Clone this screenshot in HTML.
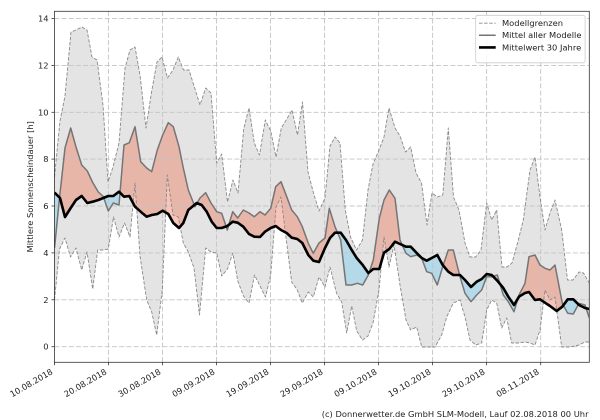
<!DOCTYPE html>
<html><head><meta charset="utf-8"><style>
html,body{margin:0;padding:0;background:#fff;}
svg{display:block;}
text{font-family:"DejaVu Sans","Liberation Sans",sans-serif;font-size:8.33px;fill:#222;}
</style></head><body>
<svg width="600" height="420" viewBox="0 0 600 420" xmlns="http://www.w3.org/2000/svg">
<defs>
<clipPath id="plot"><rect x="54.4" y="11.3" width="534.9" height="351"/></clipPath>
<clipPath id="above"><polygon points="54.4,0 54.5,192.5 60,198 65,217 70.7,208 76,200 81.7,196 87.3,203 92.7,201.7 98.3,200 103.3,198 108.3,196 113.3,196 119,191.7 124,196.7 129.3,196 135,206.7 140.7,211.7 146.7,216.7 151.7,215 157.3,214 162.7,210.7 168.3,214 173.3,223 179,228 183.3,223 188.3,210 196.7,203 201.7,205 206.7,211.7 211.7,221.7 216.7,228 221.7,228 227.3,226 232.7,221.7 237.7,222.7 243.3,226.7 249,234 254.3,236.7 260,237 265,231.7 270.7,228 275.7,226 281,230 286.7,233 291.7,237.7 297.3,239 302.3,243 308.3,255 313.3,260.7 319,262 325,248 330,238 335,232.7 340.7,232.7 346,240 351.7,250 356.7,258 362.7,265 368.3,273 373.3,269 379.3,269 384,252.7 389.3,249 395,241.7 400,244 406,246.7 410.7,246.7 416.7,253 421.7,258 426.7,260.7 431.7,258 437.3,255 442.7,265 448.3,271.7 453.3,275 460,275 465,280 471,287 476.7,281.7 481.7,279 486.7,274 491.7,275 497.3,280.7 503.3,288 508.3,296.7 514,305 519,296.7 525,293 529,292 535,300 540,299.3 545,302.7 550,306 556.7,311 562.3,306.7 567.7,299.3 573.3,299.3 579,305 585,308 589.3,309 589.3,0"/></clipPath>
<clipPath id="below"><polygon points="54.4,420 54.5,192.5 60,198 65,217 70.7,208 76,200 81.7,196 87.3,203 92.7,201.7 98.3,200 103.3,198 108.3,196 113.3,196 119,191.7 124,196.7 129.3,196 135,206.7 140.7,211.7 146.7,216.7 151.7,215 157.3,214 162.7,210.7 168.3,214 173.3,223 179,228 183.3,223 188.3,210 196.7,203 201.7,205 206.7,211.7 211.7,221.7 216.7,228 221.7,228 227.3,226 232.7,221.7 237.7,222.7 243.3,226.7 249,234 254.3,236.7 260,237 265,231.7 270.7,228 275.7,226 281,230 286.7,233 291.7,237.7 297.3,239 302.3,243 308.3,255 313.3,260.7 319,262 325,248 330,238 335,232.7 340.7,232.7 346,240 351.7,250 356.7,258 362.7,265 368.3,273 373.3,269 379.3,269 384,252.7 389.3,249 395,241.7 400,244 406,246.7 410.7,246.7 416.7,253 421.7,258 426.7,260.7 431.7,258 437.3,255 442.7,265 448.3,271.7 453.3,275 460,275 465,280 471,287 476.7,281.7 481.7,279 486.7,274 491.7,275 497.3,280.7 503.3,288 508.3,296.7 514,305 519,296.7 525,293 529,292 535,300 540,299.3 545,302.7 550,306 556.7,311 562.3,306.7 567.7,299.3 573.3,299.3 579,305 585,308 589.3,309 589.3,420"/></clipPath>
</defs>

<g clip-path="url(#plot)">
<!-- gray band -->
<polygon fill="#e4e4e4" points="54.5,177 60,121 65,96 71,32 76,30 82,27 87,30 92,57 97,60 103,105 108,182 113,167 119,143 125,68 130,50 135,47 140,75 146,128 151.7,91 157,62 162,57 167.5,78 173,70 178.3,57 183.5,70 189,70 195,89 200,105 205.7,88 211,93 216.7,163 221.7,154 227.5,202 233,180 238,193 243.7,129 249,108 254.3,143 259.5,155 265.3,120 270.7,131 276,157 281.3,128 286.8,119 292,110 297.5,135 302.5,102 308,172 313.5,193 319,211 325,198 330,146 335,137 340,143 345.3,210 350.5,237 356.5,250 362.5,240 368,190 373,164 379,150 384,137 389,108 395,128 400,136 405.5,152 410.7,147 416,173 421.5,183 427,225 432,193 437.3,197 442.8,195 448.3,128 453.5,197 459,210 465,243 470,257 475.7,257 481,250 486.7,203 491.7,220 496.7,210 502,267 507,267 512,263 518.3,240 523.3,220 530,170 535,157 540,197 545,230 550,213 555,200 561.7,230 567.5,280 573,280 579,272 583.5,273 589.3,283 589.3,342 585,342 579,345 570,347 561.7,347 555,297 550,300 545,290 540,330 535,345 530,343 525,342 518,343 511.7,343 506.7,318 501.7,328 496.7,303 491.7,300 486.7,310 481.7,343 475.7,345 470,340 465,317 460,300 453.3,303 446.7,317 441.7,335 435,347 428,347 421.7,347 416.7,327 410.7,330 406,320 400,285 394,245 389,267 384,237 379,290 373,323 368,336 362.5,340 356.7,331 351.7,306 346.7,333 341.7,302 336.5,293 330,267 325,287 319,277 313.3,297 308.3,292 302.3,303 297.3,290 291.7,282 286.7,243 281,197 276,207 270.7,275 265.5,297 260.5,287 254.5,275 249,303 243.5,296 237.8,281 232.8,253 227.5,269 221.7,276 216.7,253 211,252 205.7,248 199.5,315 194,268 188.3,252 183.3,243 178.3,217 173,215 167.3,175 162.3,290 156.7,335 151.7,312 146.7,300 140,256 135,183 130,237 124.5,223 119,237 113.5,217 108.3,249 103,250 97.7,250 92.7,289 87,252 81.7,270 76,248 70.5,257 65,238 59.5,249 54.5,300"/>

<!-- red fill -->
<polygon fill="rgba(238,124,98,0.45)" clip-path="url(#above)" points="54.5,248 59.5,198 65,148 70.7,128 76,147 81.7,165 87.3,171 92.7,182.5 98.3,192 103.3,196.5 108.3,211 113.3,203 119,205 124,145 129.3,142.7 135,126.7 140.7,161.7 146.7,168 151.7,171.7 157.3,150 162.7,135 168.3,122.7 173.3,126.7 179,146.7 183.3,168 188.3,190 195,206.7 200,198 205.7,192.7 211,203 216.7,211.7 221.7,213.3 227.3,230 232.7,211.7 237.7,218 243.3,210 249,213 254.3,216.7 260,211.7 265,215 270.7,208.3 275.7,186.7 281,181.7 286.7,196.7 291.7,210 297.3,216.7 302.3,226.7 308.3,243.3 313.3,253.3 319,243 325,238 329.3,208.3 335,226.7 340.7,240 346,285 351.7,285 357.3,283.3 362.7,285 368.3,275 373.3,260 379.3,218.3 384,200 389.3,190 395,198.3 400,240 406,253.3 410.7,256.7 416.7,255 421.7,258.3 426.7,271.7 431.7,273.3 437.3,285 442.7,266.7 448.3,250 453.3,250 460,276.7 465,293.3 471,301.7 476.7,295 481.7,290 486.7,276.7 491.7,276.7 497.3,275 503.3,295 508.3,301.7 514,311.7 519,295 525,283.3 529,256.7 535,255 540,265 545,268.3 550,270 555,265 562.3,303.3 567.7,313.3 573.3,314 579,303.3 585,305 589.3,318 589.3,309 585,308 579,305 573.3,299.3 567.7,299.3 562.3,306.7 556.7,311 550,306 545,302.7 540,299.3 535,300 529,292 525,293 519,296.7 514,305 508.3,296.7 503.3,288 497.3,280.7 491.7,275 486.7,274 481.7,279 476.7,281.7 471,287 465,280 460,275 453.3,275 448.3,271.7 442.7,265 437.3,255 431.7,258 426.7,260.7 421.7,258 416.7,253 410.7,246.7 406,246.7 400,244 395,241.7 389.3,249 384,252.7 379.3,269 373.3,269 368.3,273 362.7,265 356.7,258 351.7,250 346,240 340.7,232.7 335,232.7 330,238 325,248 319,262 313.3,260.7 308.3,255 302.3,243 297.3,239 291.7,237.7 286.7,233 281,230 275.7,226 270.7,228 265,231.7 260,237 254.3,236.7 249,234 243.3,226.7 237.7,222.7 232.7,221.7 227.3,226 221.7,228 216.7,228 211.7,221.7 206.7,211.7 201.7,205 196.7,203 188.3,210 183.3,223 179,228 173.3,223 168.3,214 162.7,210.7 157.3,214 151.7,215 146.7,216.7 140.7,211.7 135,206.7 129.3,196 124,196.7 119,191.7 113.3,196 108.3,196 103.3,198 98.3,200 92.7,201.7 87.3,203 81.7,196 76,200 70.7,208 65,217 60,198 54.5,192.5"/>
<!-- blue fill -->
<polygon fill="rgba(148,210,236,0.6)" clip-path="url(#below)" points="54.5,248 59.5,198 65,148 70.7,128 76,147 81.7,165 87.3,171 92.7,182.5 98.3,192 103.3,196.5 108.3,211 113.3,203 119,205 124,145 129.3,142.7 135,126.7 140.7,161.7 146.7,168 151.7,171.7 157.3,150 162.7,135 168.3,122.7 173.3,126.7 179,146.7 183.3,168 188.3,190 195,206.7 200,198 205.7,192.7 211,203 216.7,211.7 221.7,213.3 227.3,230 232.7,211.7 237.7,218 243.3,210 249,213 254.3,216.7 260,211.7 265,215 270.7,208.3 275.7,186.7 281,181.7 286.7,196.7 291.7,210 297.3,216.7 302.3,226.7 308.3,243.3 313.3,253.3 319,243 325,238 329.3,208.3 335,226.7 340.7,240 346,285 351.7,285 357.3,283.3 362.7,285 368.3,275 373.3,260 379.3,218.3 384,200 389.3,190 395,198.3 400,240 406,253.3 410.7,256.7 416.7,255 421.7,258.3 426.7,271.7 431.7,273.3 437.3,285 442.7,266.7 448.3,250 453.3,250 460,276.7 465,293.3 471,301.7 476.7,295 481.7,290 486.7,276.7 491.7,276.7 497.3,275 503.3,295 508.3,301.7 514,311.7 519,295 525,283.3 529,256.7 535,255 540,265 545,268.3 550,270 555,265 562.3,303.3 567.7,313.3 573.3,314 579,303.3 585,305 589.3,318 589.3,309 585,308 579,305 573.3,299.3 567.7,299.3 562.3,306.7 556.7,311 550,306 545,302.7 540,299.3 535,300 529,292 525,293 519,296.7 514,305 508.3,296.7 503.3,288 497.3,280.7 491.7,275 486.7,274 481.7,279 476.7,281.7 471,287 465,280 460,275 453.3,275 448.3,271.7 442.7,265 437.3,255 431.7,258 426.7,260.7 421.7,258 416.7,253 410.7,246.7 406,246.7 400,244 395,241.7 389.3,249 384,252.7 379.3,269 373.3,269 368.3,273 362.7,265 356.7,258 351.7,250 346,240 340.7,232.7 335,232.7 330,238 325,248 319,262 313.3,260.7 308.3,255 302.3,243 297.3,239 291.7,237.7 286.7,233 281,230 275.7,226 270.7,228 265,231.7 260,237 254.3,236.7 249,234 243.3,226.7 237.7,222.7 232.7,221.7 227.3,226 221.7,228 216.7,228 211.7,221.7 206.7,211.7 201.7,205 196.7,203 188.3,210 183.3,223 179,228 173.3,223 168.3,214 162.7,210.7 157.3,214 151.7,215 146.7,216.7 140.7,211.7 135,206.7 129.3,196 124,196.7 119,191.7 113.3,196 108.3,196 103.3,198 98.3,200 92.7,201.7 87.3,203 81.7,196 76,200 70.7,208 65,217 60,198 54.5,192.5"/>
</g>

<!-- grid -->
<g stroke="#c4c4c4" stroke-width="0.9" stroke-dasharray="5,2.2" fill="none">
<line x1="54.4" y1="346.7" x2="589.3" y2="346.7"/>
<line x1="54.4" y1="299.8" x2="589.3" y2="299.8"/>
<line x1="54.4" y1="252.9" x2="589.3" y2="252.9"/>
<line x1="54.4" y1="206" x2="589.3" y2="206"/>
<line x1="54.4" y1="159.1" x2="589.3" y2="159.1"/>
<line x1="54.4" y1="112.3" x2="589.3" y2="112.3"/>
<line x1="54.4" y1="65.4" x2="589.3" y2="65.4"/>
<line x1="54.4" y1="18.6" x2="589.3" y2="18.6"/>
<line x1="108.4" y1="11.3" x2="108.4" y2="362.3"/>
<line x1="162.5" y1="11.3" x2="162.5" y2="362.3"/>
<line x1="216.5" y1="11.3" x2="216.5" y2="362.3"/>
<line x1="270.5" y1="11.3" x2="270.5" y2="362.3"/>
<line x1="324.6" y1="11.3" x2="324.6" y2="362.3"/>
<line x1="378.6" y1="11.3" x2="378.6" y2="362.3"/>
<line x1="432.6" y1="11.3" x2="432.6" y2="362.3"/>
<line x1="486.6" y1="11.3" x2="486.6" y2="362.3"/>
<line x1="540.7" y1="11.3" x2="540.7" y2="362.3"/>
</g>

<g clip-path="url(#plot)" fill="none" stroke-linejoin="round">
<!-- bounds -->
<polyline stroke="#8a8a8a" stroke-width="0.9" stroke-dasharray="3.5,1.6" points="54.5,177 60,121 65,96 71,32 76,30 82,27 87,30 92,57 97,60 103,105 108,182 113,167 119,143 125,68 130,50 135,47 140,75 146,128 151.7,91 157,62 162,57 167.5,78 173,70 178.3,57 183.5,70 189,70 195,89 200,105 205.7,88 211,93 216.7,163 221.7,154 227.5,202 233,180 238,193 243.7,129 249,108 254.3,143 259.5,155 265.3,120 270.7,131 276,157 281.3,128 286.8,119 292,110 297.5,135 302.5,102 308,172 313.5,193 319,211 325,198 330,146 335,137 340,143 345.3,210 350.5,237 356.5,250 362.5,240 368,190 373,164 379,150 384,137 389,108 395,128 400,136 405.5,152 410.7,147 416,173 421.5,183 427,225 432,193 437.3,197 442.8,195 448.3,128 453.5,197 459,210 465,243 470,257 475.7,257 481,250 486.7,203 491.7,220 496.7,210 502,267 507,267 512,263 518.3,240 523.3,220 530,170 535,157 540,197 545,230 550,213 555,200 561.7,230 567.5,280 573,280 579,272 583.5,273 589.3,283"/>
<polyline stroke="#8a8a8a" stroke-width="0.9" stroke-dasharray="3.5,1.6" points="54.5,300 59.5,249 65,238 70.5,257 76,248 81.7,270 87,252 92.7,289 97.7,250 103,250 108.3,249 113.5,217 119,237 124.5,223 130,237 135,183 140,256 146.7,300 151.7,312 156.7,335 162.3,290 167.3,175 173,215 178.3,217 183.3,243 188.3,252 194,268 199.5,315 205.7,248 211,252 216.7,253 221.7,276 227.5,269 232.8,253 237.8,281 243.5,296 249,303 254.5,275 260.5,287 265.5,297 270.7,275 276,207 281,197 286.7,243 291.7,282 297.3,290 302.3,303 308.3,292 313.3,297 319,277 325,287 330,267 336.5,293 341.7,302 346.7,333 351.7,306 356.7,331 362.5,340 368,336 373,323 379,290 384,237 389,267 394,245 400,285 406,320 410.7,330 416.7,327 421.7,347 428,347 435,347 441.7,335 446.7,317 453.3,303 460,300 465,317 470,340 475.7,345 481.7,343 486.7,310 491.7,300 496.7,303 501.7,328 506.7,318 511.7,343 518,343 525,342 530,343 535,345 540,330 545,290 550,300 555,297 561.7,347 570,347 579,345 585,342 589.3,342"/>
<!-- model mean -->
<polyline stroke="#757575" stroke-width="1.5" points="54.5,248 59.5,198 65,148 70.7,128 76,147 81.7,165 87.3,171 92.7,182.5 98.3,192 103.3,196.5 108.3,211 113.3,203 119,205 124,145 129.3,142.7 135,126.7 140.7,161.7 146.7,168 151.7,171.7 157.3,150 162.7,135 168.3,122.7 173.3,126.7 179,146.7 183.3,168 188.3,190 195,206.7 200,198 205.7,192.7 211,203 216.7,211.7 221.7,213.3 227.3,230 232.7,211.7 237.7,218 243.3,210 249,213 254.3,216.7 260,211.7 265,215 270.7,208.3 275.7,186.7 281,181.7 286.7,196.7 291.7,210 297.3,216.7 302.3,226.7 308.3,243.3 313.3,253.3 319,243 325,238 329.3,208.3 335,226.7 340.7,240 346,285 351.7,285 357.3,283.3 362.7,285 368.3,275 373.3,260 379.3,218.3 384,200 389.3,190 395,198.3 400,240 406,253.3 410.7,256.7 416.7,255 421.7,258.3 426.7,271.7 431.7,273.3 437.3,285 442.7,266.7 448.3,250 453.3,250 460,276.7 465,293.3 471,301.7 476.7,295 481.7,290 486.7,276.7 491.7,276.7 497.3,275 503.3,295 508.3,301.7 514,311.7 519,295 525,283.3 529,256.7 535,255 540,265 545,268.3 550,270 555,265 562.3,303.3 567.7,313.3 573.3,314 579,303.3 585,305 589.3,318"/>
<!-- 30 year mean -->
<polyline stroke="#000" stroke-width="2.6" points="54.5,192.5 60,198 65,217 70.7,208 76,200 81.7,196 87.3,203 92.7,201.7 98.3,200 103.3,198 108.3,196 113.3,196 119,191.7 124,196.7 129.3,196 135,206.7 140.7,211.7 146.7,216.7 151.7,215 157.3,214 162.7,210.7 168.3,214 173.3,223 179,228 183.3,223 188.3,210 196.7,203 201.7,205 206.7,211.7 211.7,221.7 216.7,228 221.7,228 227.3,226 232.7,221.7 237.7,222.7 243.3,226.7 249,234 254.3,236.7 260,237 265,231.7 270.7,228 275.7,226 281,230 286.7,233 291.7,237.7 297.3,239 302.3,243 308.3,255 313.3,260.7 319,262 325,248 330,238 335,232.7 340.7,232.7 346,240 351.7,250 356.7,258 362.7,265 368.3,273 373.3,269 379.3,269 384,252.7 389.3,249 395,241.7 400,244 406,246.7 410.7,246.7 416.7,253 421.7,258 426.7,260.7 431.7,258 437.3,255 442.7,265 448.3,271.7 453.3,275 460,275 465,280 471,287 476.7,281.7 481.7,279 486.7,274 491.7,275 497.3,280.7 503.3,288 508.3,296.7 514,305 519,296.7 525,293 529,292 535,300 540,299.3 545,302.7 550,306 556.7,311 562.3,306.7 567.7,299.3 573.3,299.3 579,305 585,308 589.3,309"/>
</g>

<!-- axes frame -->
<rect x="54.4" y="11.3" width="534.9" height="351" fill="none" stroke="#333" stroke-width="0.8"/>

<!-- ticks -->
<g stroke="#333" stroke-width="0.8">
<line x1="51.5" y1="346.7" x2="54.4" y2="346.7"/>
<line x1="51.5" y1="299.8" x2="54.4" y2="299.8"/>
<line x1="51.5" y1="252.9" x2="54.4" y2="252.9"/>
<line x1="51.5" y1="206" x2="54.4" y2="206"/>
<line x1="51.5" y1="159.1" x2="54.4" y2="159.1"/>
<line x1="51.5" y1="112.3" x2="54.4" y2="112.3"/>
<line x1="51.5" y1="65.4" x2="54.4" y2="65.4"/>
<line x1="51.5" y1="18.6" x2="54.4" y2="18.6"/>
<line x1="54.4" y1="362.3" x2="54.4" y2="365.2"/>
<line x1="108.4" y1="362.3" x2="108.4" y2="365.2"/>
<line x1="162.5" y1="362.3" x2="162.5" y2="365.2"/>
<line x1="216.5" y1="362.3" x2="216.5" y2="365.2"/>
<line x1="270.5" y1="362.3" x2="270.5" y2="365.2"/>
<line x1="324.6" y1="362.3" x2="324.6" y2="365.2"/>
<line x1="378.6" y1="362.3" x2="378.6" y2="365.2"/>
<line x1="432.6" y1="362.3" x2="432.6" y2="365.2"/>
<line x1="486.6" y1="362.3" x2="486.6" y2="365.2"/>
<line x1="540.7" y1="362.3" x2="540.7" y2="365.2"/>
</g>

<!-- y tick labels -->
<g text-anchor="end">
<text x="48.6" y="349.7">0</text>
<text x="48.6" y="302.8">2</text>
<text x="48.6" y="255.9">4</text>
<text x="48.6" y="209">6</text>
<text x="48.6" y="162.1">8</text>
<text x="48.6" y="115.3">10</text>
<text x="48.6" y="68.4">12</text>
<text x="48.6" y="21.6">14</text>
</g>

<!-- x tick labels -->
<g text-anchor="end">
<text transform="translate(53.4,373.5) rotate(-30)">10.08.2018</text>
<text transform="translate(107.4,373.5) rotate(-30)">20.08.2018</text>
<text transform="translate(161.5,373.5) rotate(-30)">30.08.2018</text>
<text transform="translate(215.5,373.5) rotate(-30)">09.09.2018</text>
<text transform="translate(269.5,373.5) rotate(-30)">19.09.2018</text>
<text transform="translate(323.6,373.5) rotate(-30)">29.09.2018</text>
<text transform="translate(377.6,373.5) rotate(-30)">09.10.2018</text>
<text transform="translate(431.6,373.5) rotate(-30)">19.10.2018</text>
<text transform="translate(485.6,373.5) rotate(-30)">29.10.2018</text>
<text transform="translate(539.7,373.5) rotate(-30)">08.11.2018</text>
</g>

<!-- y label -->
<text transform="translate(32.8,186.8) rotate(-90)" text-anchor="middle">Mittlere Sonnenscheindauer [h]</text>

<!-- legend -->
<rect x="475.7" y="15.3" width="109.4" height="47.5" rx="2" ry="2" fill="rgba(255,255,255,0.85)" stroke="#cccccc" stroke-width="0.8"/>
<line x1="479" y1="23.2" x2="495.7" y2="23.2" stroke="#8a8a8a" stroke-width="0.9" stroke-dasharray="3.5,1.6"/>
<line x1="479" y1="35.2" x2="495.7" y2="35.2" stroke="#757575" stroke-width="1.5"/>
<line x1="479" y1="47.4" x2="495.7" y2="47.4" stroke="#000" stroke-width="2.6"/>
<text x="502" y="26.2">Modellgrenzen</text>
<text x="502" y="38.2">Mittel aller Modelle</text>
<text x="502" y="50.4">Mittelwert 30 Jahre</text>

<!-- footer -->
<text x="588.5" y="417" text-anchor="end">(c) Donnerwetter.de GmbH SLM-Modell, Lauf 02.08.2018 00 Uhr</text>
</svg>
</body></html>
